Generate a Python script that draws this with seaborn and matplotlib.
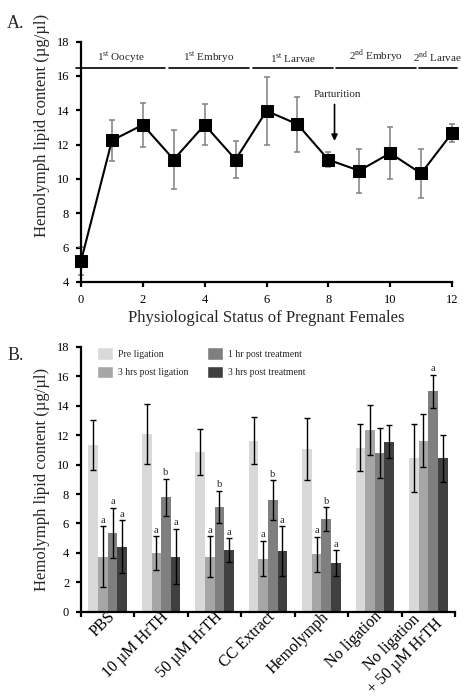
import matplotlib
matplotlib.use("Agg")
import pandas as pd
import matplotlib.pyplot as plt
import matplotlib.transforms as mtransforms
import seaborn as sns

# Panel A: hemolymph lipid across pregnancy
stage = list(range(13))
lipid_a = [5.22, 12.24, 13.15, 11.13, 13.15, 11.13, 13.96, 13.19, 11.12, 10.48, 11.5, 10.32, 12.67]
err_a = [0.83, 1.2, 1.27, 1.7, 1.2, 1.07, 2.0, 1.6, 0.43, 1.27, 1.5, 1.45, 0.52]
phase_names = ["1$^{\\mathrm{st}}$ Oocyte", "1$^{\\mathrm{st}}$ Embryo", "1$^{\\mathrm{st}}$ Larvae",
               "2$^{\\mathrm{nd}}$ Embryo", "2$^{\\mathrm{nd}}$ Larvae"]
phase_start = [-0.15, 2.86, 5.57, 8.26, 10.92]
phase_end = [2.73, 5.42, 8.16, 10.82, 12.15]

# Panel B: ligation / treatment experiment
treatments = ["PBS", "10 µM HrTH", "50 µM HrTH", "CC Extract", "Hemolymph",
              "No ligation", "No ligation\n+ 50 µM HrTH"]
series = ["Pre ligation", "3 hrs post ligation", "1 hr post treatment", "3 hrs post treatment"]
pre_lig = [11.36, 12.08, 10.83, 11.63, 11.07, 11.14, 10.47]
pre_lig_err = [1.7, 2.07, 1.57, 1.6, 2.1, 1.6, 2.3]
post_lig = [3.75, 3.97, 3.75, 3.61, 3.9, 12.35, 11.63]
post_lig_err = [2.05, 1.17, 1.37, 1.2, 1.2, 1.7, 1.8]
post_trt1 = [5.36, 7.78, 7.11, 7.58, 6.3, 10.81, 15.0]
post_trt1_err = [1.7, 1.27, 1.1, 1.37, 0.8, 1.7, 1.12]
post_trt3 = [4.42, 3.75, 4.19, 4.1, 3.3, 11.57, 10.44]
post_trt3_err = [1.8, 1.9, 0.8, 1.7, 0.87, 1.1, 1.6]
letters = [
    ["", "", "", "", "", "", ""],
    ["a", "a", "a", "a", "a", "", ""],
    ["a", "b", "b", "b", "b", "", "a"],
    ["a", "a", "a", "a", "a", "", ""],
]
bar_colors = ["#d9d9d9", "#a6a6a6", "#7f7f7f", "#404040"]

sns.set_theme(style="ticks")
plt.rcParams["font.family"] = ["Liberation Serif", "DejaVu Serif"]
plt.rcParams["mathtext.fontset"] = "custom"
plt.rcParams["mathtext.rm"] = "Liberation Serif"
plt.rcParams["axes.linewidth"] = 1.6
plt.rcParams["xtick.major.width"] = 1.6
plt.rcParams["ytick.major.width"] = 1.6
plt.rcParams["xtick.major.size"] = 3.5
plt.rcParams["ytick.major.size"] = 3.5
plt.rcParams["xtick.color"] = "black"
plt.rcParams["ytick.color"] = "black"
plt.rcParams["axes.edgecolor"] = "black"

fig = plt.figure(figsize=(4.74, 6.98), dpi=100)
ax_a = fig.add_axes([0.1709, 0.596, 0.7827, 0.3445])
ax_b = fig.add_axes([0.1709, 0.1237, 0.789, 0.3792])

# ---- A ----
df_a = pd.DataFrame({"stage": stage, "lipid": lipid_a, "err": err_a})
ax_a.errorbar(df_a["stage"], df_a["lipid"], yerr=df_a["err"], fmt="none",
              ecolor="#808080", elinewidth=1.1, capsize=2.5, capthick=1.1, clip_on=False)
sns.lineplot(data=df_a, x="stage", y="lipid", ax=ax_a, color="black", linewidth=1.5,
             marker="s", markersize=8.5, markeredgecolor="black", markerfacecolor="black")
for ln in ax_a.lines:
    ln.set_clip_on(False)
ax_a.set_xlim(0, 12)
ax_a.set_ylim(4, 18)
ax_a.set_xticks(range(0, 13, 2))
ax_a.set_yticks(range(4, 19, 2))
ax_a.tick_params(axis="x", labelsize=9, pad=5)
ax_a.tick_params(axis="y", labelsize=9, pad=5)
sns.despine(ax=ax_a)
ax_a.set_xlabel("Physiological Status of Pregnant Females", fontsize=12, labelpad=3)
ax_a.set_ylabel("Hemolymph lipid content (µg/µl)", fontsize=12)
ax_a.yaxis.set_label_coords(-0.083, 0.653)

for name, x0, x1 in zip(phase_names, phase_start, phase_end):
    ax_a.plot([x0, x1], [16.47, 16.47], color="black", lw=1.2, clip_on=False)
    ax_a.text((x0 + x1) / 2, 16.62, name, ha="center", va="bottom", fontsize=8)

ax_a.annotate("", xy=(8.2, 12.05), xytext=(8.2, 14.5),
              arrowprops=dict(arrowstyle="-|>", color="black", lw=1.2, mutation_scale=9))
ax_a.text(8.3, 14.65, "Parturition", ha="center", va="bottom", fontsize=8)

# ---- B ----
rows = []
for s, vals in zip(series, [pre_lig, post_lig, post_trt1, post_trt3]):
    for t, v in zip(treatments, vals):
        rows.append({"treatment": t, "group": s, "lipid": v})
df_b = pd.DataFrame(rows)

sns.barplot(data=df_b, x="treatment", y="lipid", hue="group", hue_order=series,
            order=treatments, palette=bar_colors, width=0.72, gap=0,
            errorbar=None, saturation=1, ax=ax_b)

for cont, errs, labs in zip(ax_b.containers, [pre_lig_err, post_lig_err, post_trt1_err, post_trt3_err], letters):
    xs = [p.get_x() + p.get_width() / 2 for p in cont.patches]
    hs = [p.get_height() for p in cont.patches]
    for p in cont.patches:
        p.set_edgecolor("none")
    ax_b.errorbar(xs, hs, yerr=errs, fmt="none", ecolor="black", elinewidth=1.0,
                  capsize=2, capthick=1.0)
    for x, h, e, lab in zip(xs, hs, errs, labs):
        if lab:
            ax_b.text(x, h + e + 0.1, lab, ha="center", va="bottom", fontsize=7.5)

ax_b.set_ylim(0, 18)
ax_b.set_xlim(-0.5, 6.5)
ax_b.set_yticks(range(0, 19, 2))
ax_b.set_xticks([i + 0.5 for i in range(-1, 7)], minor=True)
ax_b.tick_params(axis="x", which="minor", length=3.5, width=1.6, direction="out")
ax_b.tick_params(axis="x", which="major", length=0, pad=2)
ax_b.tick_params(axis="y", labelsize=9, pad=5)
ax_b.set_xticks(range(len(treatments)))
ax_b.set_xticklabels(treatments, rotation=45, ha="right", va="center",
                     rotation_mode="anchor", fontsize=11.5, multialignment="center")
shift = mtransforms.ScaledTranslation(5 / 100, 0, fig.dpi_scale_trans)
for lbl in ax_b.get_xticklabels():
    lbl.set_transform(lbl.get_transform() + shift)
sns.despine(ax=ax_b)
ax_b.set_xlabel("")
ax_b.set_ylabel("Hemolymph lipid content (µg/µl)", fontsize=12)
ax_b.yaxis.set_label_coords(-0.083, 0.5)

ax_b.legend(ncol=2, loc="upper left", bbox_to_anchor=(0.043, 1.0), frameon=False,
            fontsize=7, handlelength=1.65, handleheight=1.65, handletextpad=0.45,
            labelspacing=0.6, columnspacing=2.0, borderaxespad=0, borderpad=0)

fig.text(0.015, 0.978, "A.", fontsize=13, va="top")
fig.text(0.015, 0.491, "B.", fontsize=13, va="center")

plt.savefig("out.png", dpi=100)
